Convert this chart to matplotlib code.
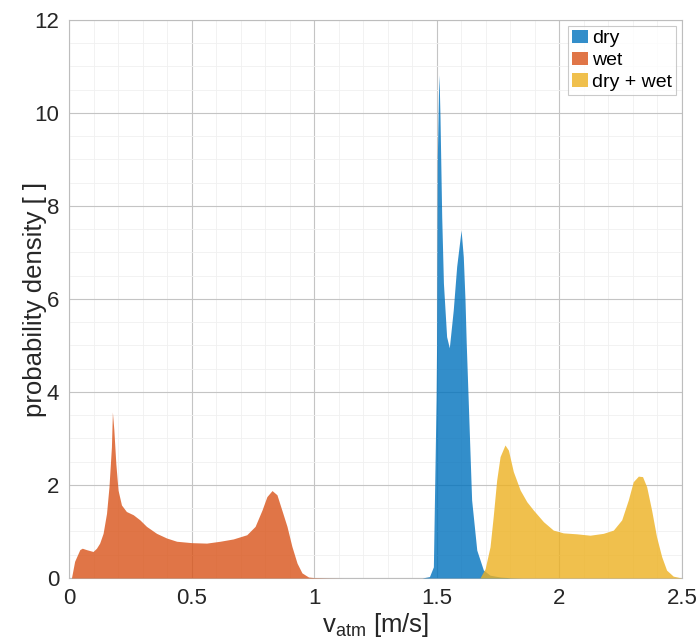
import numpy as np
import matplotlib
matplotlib.use('Agg')
import matplotlib.pyplot as plt
from matplotlib.ticker import MultipleLocator

# densidades (x em m/s, y em densidade)
wet_x = [0.0, 0.01, 0.023, 0.044, 0.054, 0.071, 0.098, 0.112, 0.125, 0.139, 0.153, 0.163,
         0.173, 0.177, 0.183, 0.191, 0.2, 0.214, 0.234, 0.262, 0.289, 0.316, 0.357, 0.398,
         0.439, 0.5, 0.561, 0.616, 0.67, 0.725, 0.759, 0.787, 0.807, 0.828, 0.848, 0.868,
         0.889, 0.909, 0.93, 0.95, 0.977, 1.0, 1.05, 1.12]
wet_y = [0, 0, 0.36, 0.61, 0.64, 0.61, 0.57, 0.64, 0.75, 0.96, 1.39, 1.96,
         2.82, 3.57, 3.18, 2.46, 1.89, 1.57, 1.43, 1.36, 1.25, 1.11, 0.96, 0.86,
         0.79, 0.76, 0.75, 0.79, 0.84, 0.93, 1.11, 1.46, 1.75, 1.88, 1.79, 1.46,
         1.11, 0.68, 0.32, 0.11, 0.02, 0.008, 0.003, 0]

dry_x = [1.44, 1.47, 1.486, 1.497, 1.499, 1.502, 1.507, 1.509, 1.513, 1.52, 1.527, 1.54,
         1.551, 1.567, 1.581, 1.599, 1.608, 1.615, 1.62, 1.628, 1.635, 1.642, 1.663, 1.69,
         1.717, 1.76, 1.80, 1.85]
dry_y = [0, 0.03, 0.24, 3.83, 5.0, 9.0, 10.5, 10.82, 9.92, 7.77, 6.34, 5.19,
         4.95, 5.76, 6.7, 7.48, 6.91, 5.98, 5.05, 3.83, 2.75, 1.68, 0.6, 0.17,
         0.06, 0.02, 0.005, 0]

dw_x = [1.65, 1.676, 1.697, 1.717, 1.73, 1.744, 1.758, 1.778, 1.792, 1.812, 1.84, 1.867,
        1.894, 1.935, 1.975, 2.016, 2.07, 2.125, 2.179, 2.22, 2.254, 2.281, 2.301, 2.322,
        2.339, 2.356, 2.376, 2.396, 2.417, 2.437, 2.464, 2.498]
dw_y = [0, 0, 0.2, 0.67, 1.32, 2.1, 2.61, 2.86, 2.75, 2.29, 1.89, 1.64,
        1.46, 1.21, 1.03, 0.97, 0.95, 0.92, 0.96, 1.03, 1.25, 1.68, 2.07, 2.19,
        2.18, 1.96, 1.46, 0.89, 0.46, 0.17, 0.04, 0]

labels = ['dry', 'wet', 'dry + wet']
cores = [(0, 0.447, 0.741), (0.85, 0.325, 0.098), (0.929, 0.694, 0.125)]
xticks = [0, 0.5, 1, 1.5, 2, 2.5]
xticklabels = ['0', '0.5', '1', '1.5', '2', '2.5']
yticks = [0, 2, 4, 6, 8, 10, 12]

plt.rcParams['font.family'] = ['Liberation Sans', 'DejaVu Sans']

fig = plt.figure(figsize=(6.97, 6.44), dpi=100)
ax = fig.add_axes([0.099, 0.1025, 0.8795, 0.8665])

series = [(dry_x, dry_y), (wet_x, wet_y), (dw_x, dw_y)]
for (x, y), lab, cor in zip(series, labels, cores):
    ax.fill_between(x, 0, y, color=cor, alpha=0.8, linewidth=0, label=lab, zorder=3)

ax.set_xlim(0, 2.5)
ax.set_ylim(0, 12)
ax.set_xticks(xticks)
ax.set_xticklabels(xticklabels)
ax.set_yticks(yticks)
ax.set_yticklabels([str(v) for v in yticks])
ax.xaxis.set_minor_locator(MultipleLocator(0.1))
ax.yaxis.set_minor_locator(MultipleLocator(0.5))
ax.grid(True, which='major', color='#c4c4c4', linewidth=0.8, zorder=0)
ax.grid(True, which='minor', color='#f0f0f0', linewidth=0.6, zorder=0)
ax.set_axisbelow(True)
ax.tick_params(which='both', length=0, pad=7, labelsize=16, colors='#262626')
for s in ax.spines.values():
    s.set_color('#bdbdbd')
    s.set_linewidth(0.8)

ax.set_xlabel(r'v$_{\mathregular{atm}}$ [m/s]', fontsize=18.5, color='#262626', labelpad=2)
ax.set_ylabel('probability density [ ]', fontsize=18.5, color='#262626', labelpad=-9)

leg = ax.legend(loc='upper right', fontsize=14, frameon=True, fancybox=False,
                borderaxespad=0.3, handlelength=0.85, handleheight=0.7, handletextpad=0.2,
                labelspacing=0.22, borderpad=0.2)
leg.get_frame().set_edgecolor('#bdbdbd')
leg.get_frame().set_linewidth(0.8)

plt.savefig('out.png', dpi=100)
